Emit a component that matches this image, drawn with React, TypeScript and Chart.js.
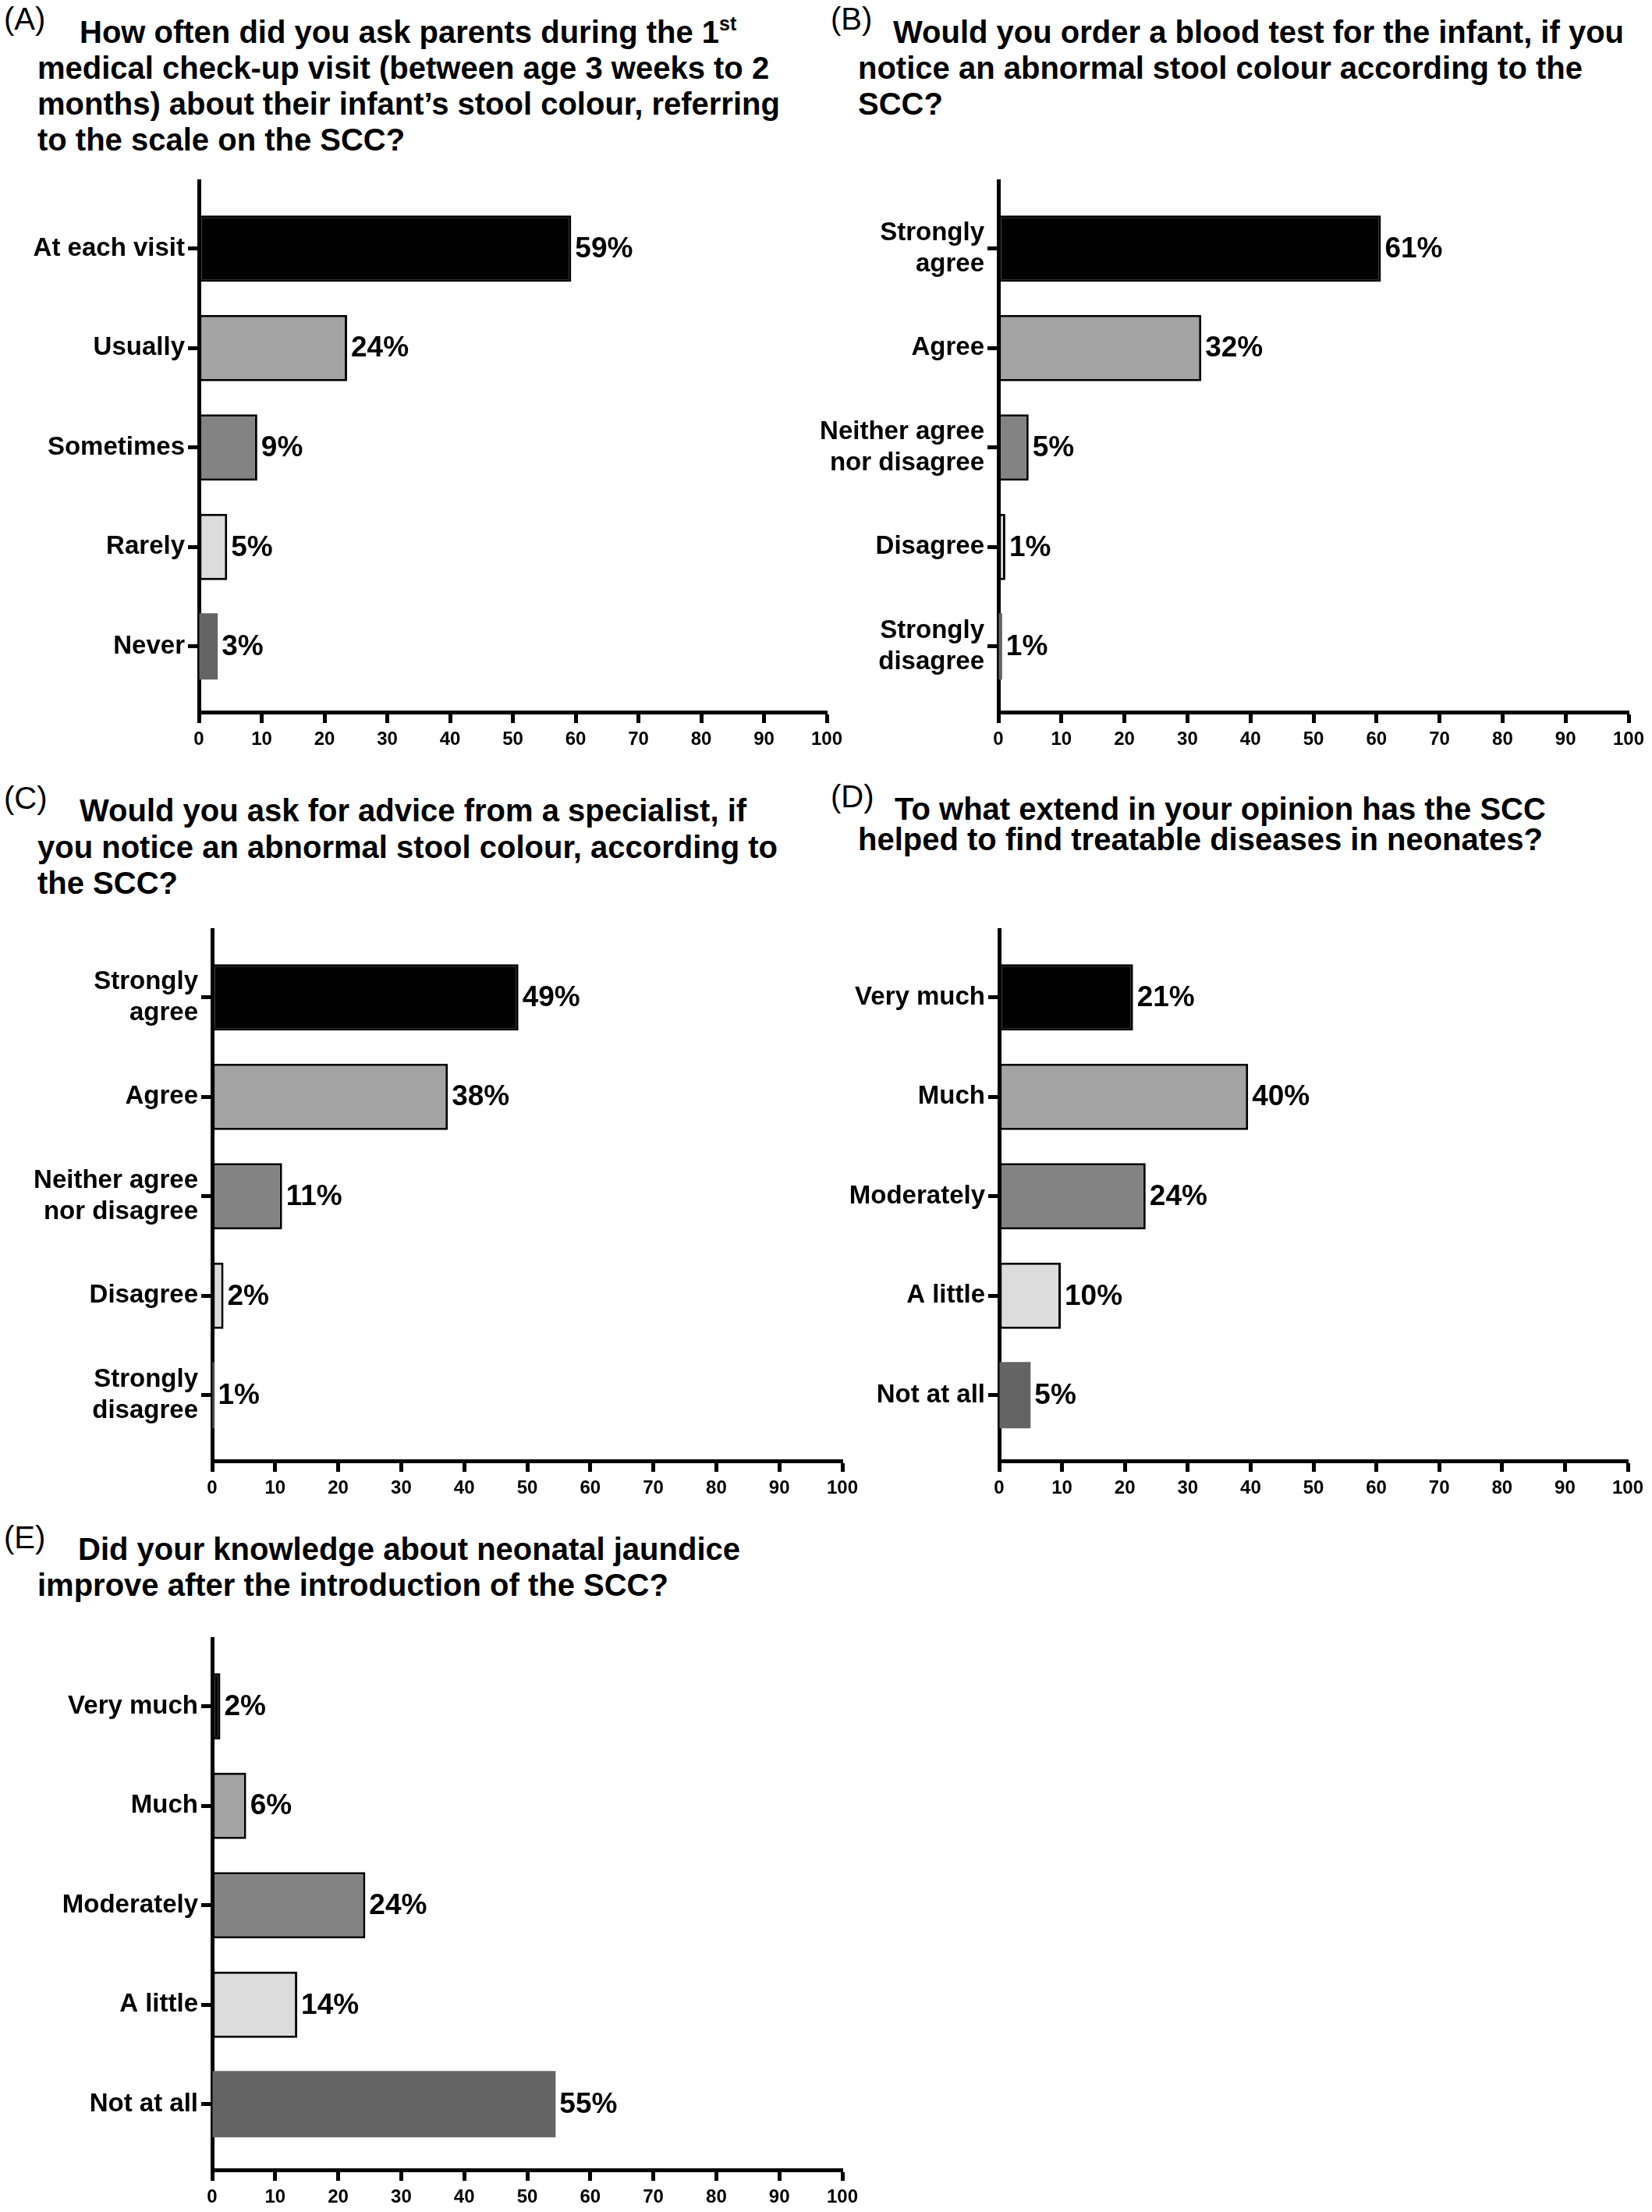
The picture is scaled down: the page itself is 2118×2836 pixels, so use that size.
import React, { useEffect, useRef } from "react";
import { Chart, registerables } from "chart.js";

Chart.register(...registerables);

const FONT = '"Liberation Sans", Arial, Helvetica, sans-serif';

// ---------- Data ----------
const categoriesA = ["At each visit", "Usually", "Sometimes", "Rarely", "Never"];
const valuesA = [59.3, 23.6, 9.3, 4.5, 3.0];
const labelsA = ["59%", "24%", "9%", "5%", "3%"];

const categoriesB = [["Strongly", "agree"], "Agree", ["Neither agree", "nor disagree"], "Disagree", ["Strongly", "disagree"]];
const valuesB = [60.7, 32.2, 4.8, 1.1, 0.6];
const labelsB = ["61%", "32%", "5%", "1%", "1%"];

const categoriesC = [["Strongly", "agree"], "Agree", ["Neither agree", "nor disagree"], "Disagree", ["Strongly", "disagree"]];
const valuesC = [48.6, 37.4, 11.1, 1.8, 0.3];
const labelsC = ["49%", "38%", "11%", "2%", "1%"];

const categoriesD = ["Very much", "Much", "Moderately", "A little", "Not at all"];
const valuesD = [21.3, 39.6, 23.3, 9.8, 5.0];
const labelsD = ["21%", "40%", "24%", "10%", "5%"];

const categoriesE = ["Very much", "Much", "Moderately", "A little", "Not at all"];
const valuesE = [1.3, 5.4, 24.3, 13.5, 54.5];
const labelsE = ["2%", "6%", "24%", "14%", "55%"];

const xMin = 0;
const xMax = 100;
const xStep = 10;

// ---------- Styles ----------
const BAR_COLORS = ["#000000", "#a3a3a3", "#838383", "#dcdcdc", "#646464"];
const BORDER_WIDTHS = [3, 3, 3, 3, 0];

type Geo = { cx: number; cy: number; cw: number; ch: number; L: number; R: number; T: number; B: number };

function BarPanel(props: { categories: any[]; values: number[]; labels: string[]; geo: Geo }) {
  const { categories, values, labels, geo } = props;
  const ref = useRef<HTMLCanvasElement>(null);
  useEffect(() => {
    const canvas = ref.current!;
    const yWidth = geo.L - geo.cx;
    const xHeight = geo.cy + geo.ch - geo.B;
    const valueLabelPlugin = {
      id: "valueLabels",
      afterDatasetsDraw(chart: any) {
        const ctx = chart.ctx;
        const meta = chart.getDatasetMeta(0);
        ctx.save();
        ctx.font = `bold 37px ${FONT}`;
        ctx.fillStyle = "#000";
        ctx.textAlign = "left";
        ctx.textBaseline = "middle";
        meta.data.forEach((el: any, i: number) => {
          ctx.fillText(labels[i], el.x + 5, el.y + 1);
        });
        ctx.restore();
      },
    };
    const gridOpts = {
      display: true,
      drawOnChartArea: false,
      drawTicks: true,
      offset: false,
      tickLength: 14,
      tickWidth: 5,
      tickColor: "#000",
    };
    const borderOpts = { display: true, color: "#000", width: 5 };
    const chart = new Chart(canvas, {
      type: "bar",
      data: {
        datasets: [
          {
            data: values.map((v, i) => ({ x: v, y: i })),
            backgroundColor: BAR_COLORS,
            borderColor: "#000",
            borderWidth: BORDER_WIDTHS,
            borderSkipped: false,
            categoryPercentage: 1,
            barPercentage: 0.667,
          } as any,
        ],
      },
      options: {
        indexAxis: "y",
        responsive: false,
        animation: false,
        devicePixelRatio: 1,
        layout: {
          padding: { left: 0, top: geo.T - geo.cy, right: geo.cx + geo.cw - geo.R, bottom: 0 },
        },
        plugins: {
          legend: { display: false },
          tooltip: { enabled: false },
          title: { display: false },
        },
        scales: {
          x: {
            type: "linear",
            position: "bottom",
            min: xMin,
            max: xMax,
            offset: false,
            ticks: {
              stepSize: xStep,
              font: { family: FONT, size: 24, weight: "bold" },
              color: "#000",
              padding: 7,
              maxRotation: 0,
              autoSkip: false,
            },
            grid: gridOpts,
            border: borderOpts,
            afterFit: (s: any) => {
              s.height = xHeight;
              s.paddingLeft = 0;
              s.paddingRight = 0;
            },
          },
          y: {
            type: "linear",
            position: "left",
            min: -0.68,
            max: 4.66,
            reverse: true,
            offset: false,
            bounds: "data",
            afterBuildTicks: (s: any) => {
              s.ticks = categories.map((_, i) => ({ value: i }));
            },
            ticks: {
              callback: (v: any) => categories[v],
              font: { family: FONT, size: 33, weight: "bold" },
              color: "#000",
              padding: 4,
              autoSkip: false,
            },
            grid: gridOpts,
            border: borderOpts,
            afterFit: (s: any) => {
              s.width = yWidth;
              s.paddingTop = 0;
              s.paddingBottom = 0;
            },
          },
        },
      } as any,
      plugins: [valueLabelPlugin],
    });
    return () => chart.destroy();
  }, []);
  return (
    <canvas
      ref={ref}
      width={geo.cw}
      height={geo.ch}
      style={{ position: "absolute", left: geo.cx, top: geo.cy, width: geo.cw, height: geo.ch }}
    />
  );
}

const TITLE_SIZE = 40;

function Line(props: { x: number; baseline: number; children: any; bold?: boolean; size?: number }) {
  const size = props.size || TITLE_SIZE;
  return (
    <div
      style={{
        position: "absolute",
        left: props.x,
        top: props.baseline - size * 0.8465,
        fontSize: size,
        lineHeight: `${size}px`,
        fontWeight: props.bold === false ? "normal" : "bold",
        whiteSpace: "nowrap",
        color: "#000",
        fontFamily: FONT,
      }}
    >
      {props.children}
    </div>
  );
}

export default function App() {
  return (
    <div
      style={{
        position: "absolute",
        left: 0,
        top: 0,
        width: 2118,
        height: 2836,
        background: "#fff",
        overflow: "hidden",
        fontFamily: FONT,
      }}
    >
      {/* Panel A title */}
      <Line x={5} baseline={38} bold={false}>(A)</Line>
      <Line x={102} baseline={55}>
        How often did you ask parents during the 1
        <span style={{ fontSize: 25, position: "relative", top: -16 }}>st</span>
      </Line>
      <Line x={48} baseline={101}>medical check-up visit (between age 3 weeks to 2</Line>
      <Line x={48} baseline={147}>months) about their infant’s stool colour, referring</Line>
      <Line x={48} baseline={193}>to the scale on the SCC?</Line>

      {/* Panel B title */}
      <Line x={1065} baseline={38} bold={false}>(B)</Line>
      <Line x={1145} baseline={55}>Would you order a blood test for the infant, if you</Line>
      <Line x={1100} baseline={101}>notice an abnormal stool colour according to the</Line>
      <Line x={1100} baseline={147}>SCC?</Line>

      {/* Panel C title */}
      <Line x={5} baseline={1037} bold={false}>(C)</Line>
      <Line x={102} baseline={1053}>Would you ask for advice from a specialist, if</Line>
      <Line x={48} baseline={1100}>you notice an abnormal stool colour, according to</Line>
      <Line x={48} baseline={1146}>the SCC?</Line>

      {/* Panel D title */}
      <Line x={1065} baseline={1035} bold={false}>(D)</Line>
      <Line x={1147} baseline={1051}>To what extend in your opinion has the SCC</Line>
      <Line x={1100} baseline={1090}>helped to find treatable diseases in neonates?</Line>

      {/* Panel E title */}
      <Line x={5} baseline={1985} bold={false}>(E)</Line>
      <Line x={100} baseline={2000}>Did your knowledge about neonatal jaundice</Line>
      <Line x={48} baseline={2046}>improve after the introduction of the SCC?</Line>

      <BarPanel
        categories={categoriesA}
        values={valuesA}
        labels={labelsA}
        geo={{ cx: 0, cy: 190, cw: 1090, ch: 800, L: 255, R: 1060, T: 232, B: 913 }}
      />
      <BarPanel
        categories={categoriesB}
        values={valuesB}
        labels={labelsB}
        geo={{ cx: 1030, cy: 190, cw: 1088, ch: 800, L: 1280, R: 2088, T: 232, B: 913 }}
      />
      <BarPanel
        categories={categoriesC}
        values={valuesC}
        labels={labelsC}
        geo={{ cx: 0, cy: 1150, cw: 1110, ch: 780, L: 272, R: 1080, T: 1192, B: 1873 }}
      />
      <BarPanel
        categories={categoriesD}
        values={valuesD}
        labels={labelsD}
        geo={{ cx: 1030, cy: 1150, cw: 1088, ch: 780, L: 1281, R: 2087, T: 1192, B: 1873 }}
      />
      <BarPanel
        categories={categoriesE}
        values={valuesE}
        labels={labelsE}
        geo={{ cx: 0, cy: 2060, cw: 1110, ch: 776, L: 272, R: 1080, T: 2101, B: 2782 }}
      />
    </div>
  );
}
